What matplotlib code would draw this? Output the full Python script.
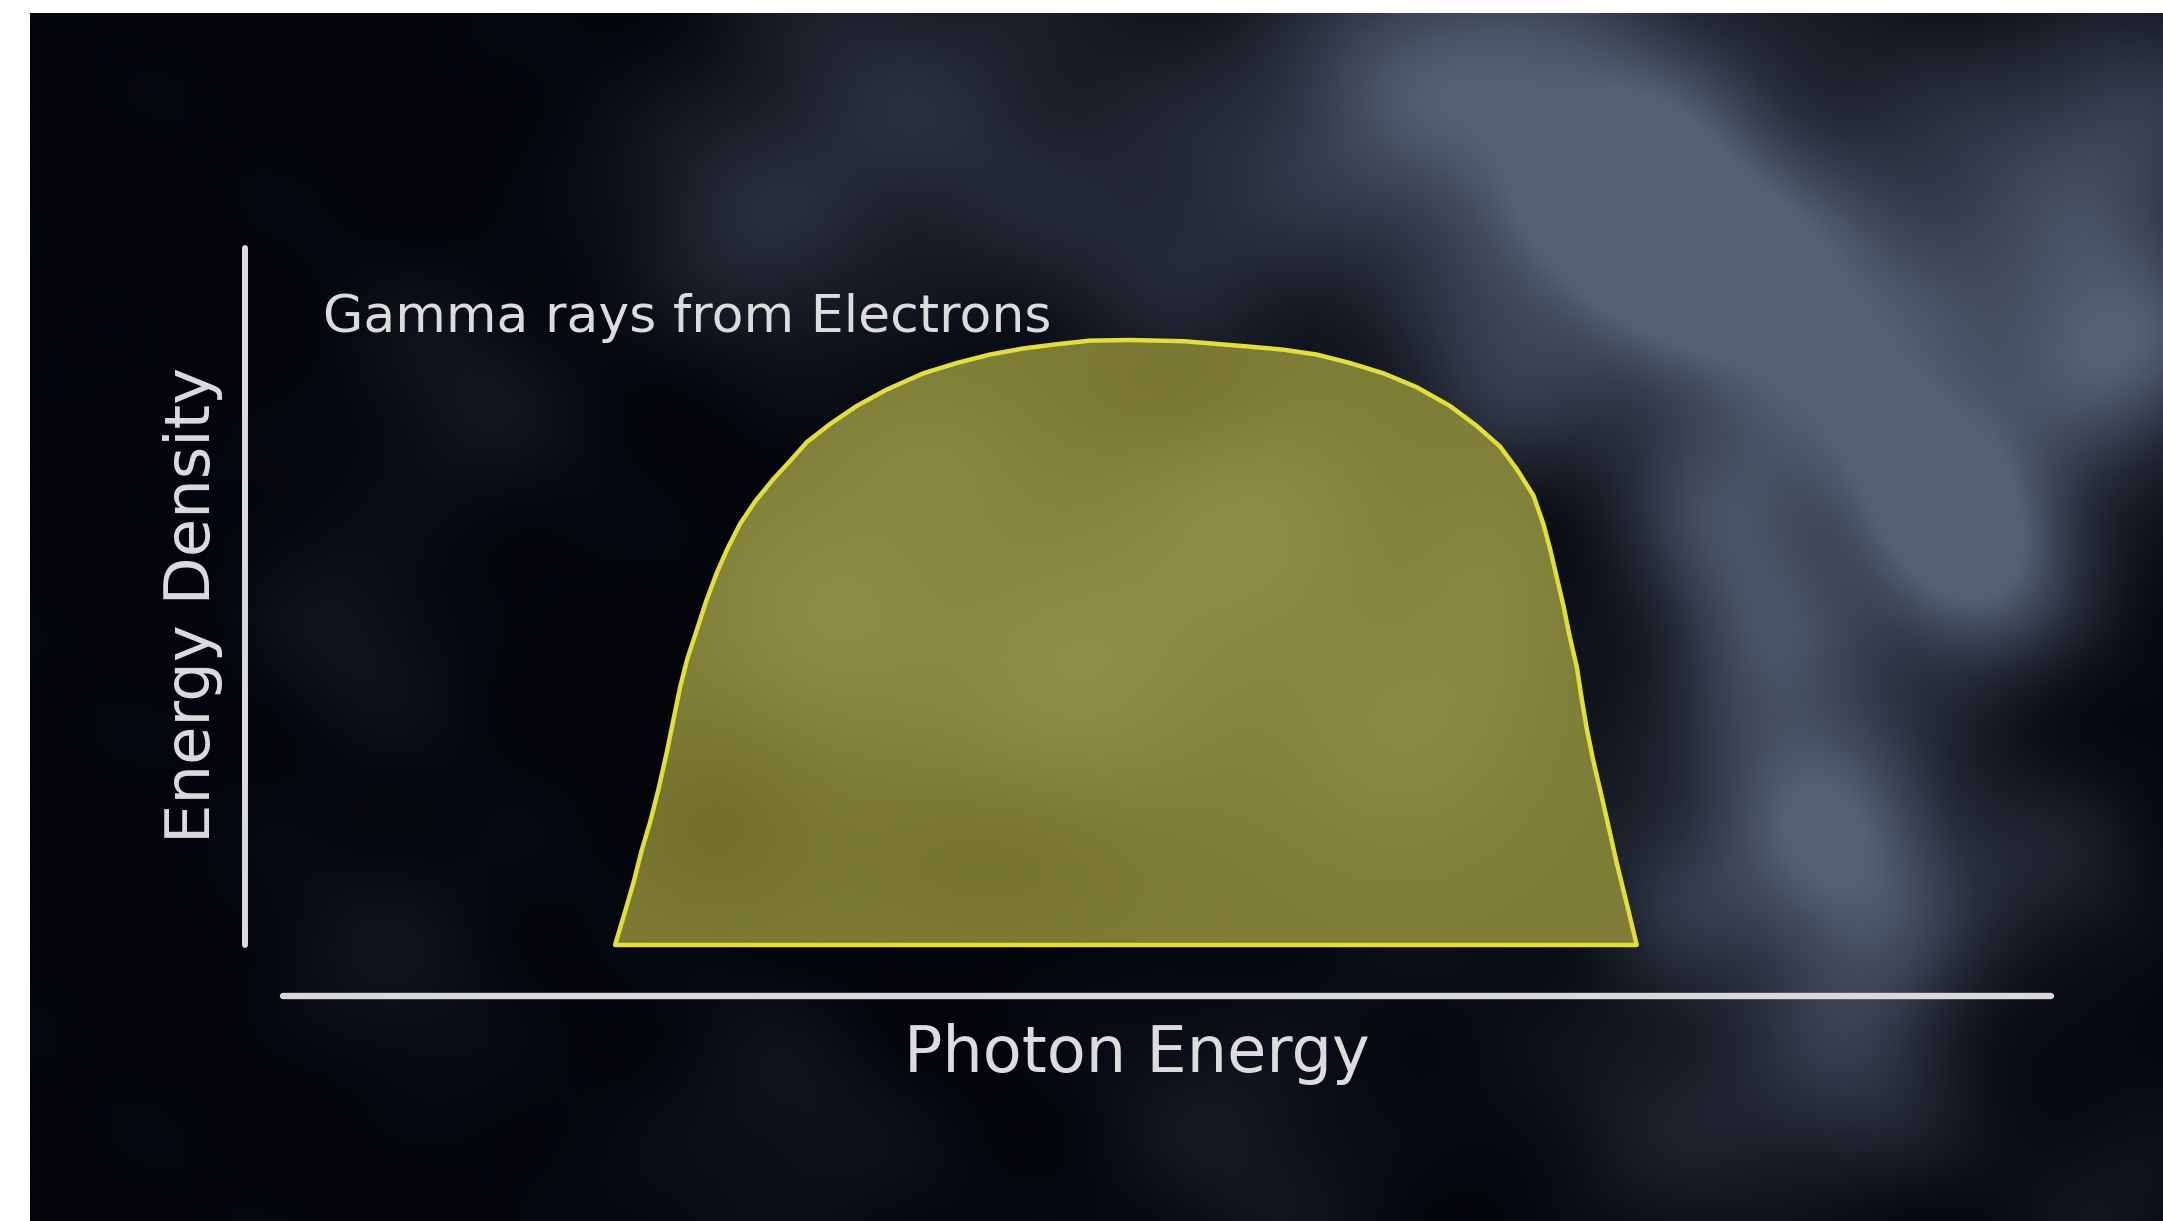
import numpy as np
import matplotlib
matplotlib.use("Agg")
import matplotlib.pyplot as plt
from matplotlib.patches import Polygon

# ---------------- data (arbitrary units) ----------------
photon_energy = [2.049, 2.104, 2.150, 2.196, 2.243, 2.289, 2.335, 2.372, 2.409, 2.449,
                 2.501, 2.553, 2.612, 2.671, 2.741, 2.824, 2.925, 3.018, 3.110, 3.239,
                 3.387, 3.553, 3.756, 3.941, 4.125, 4.309, 4.494, 4.679, 4.900, 5.200,
                 5.565, 5.749, 5.934, 6.118, 6.303, 6.488, 6.672, 6.820, 6.949, 7.041,
                 7.134, 7.189, 7.226, 7.263, 7.300, 7.337, 7.374, 7.402, 7.429, 7.466,
                 7.503, 7.549, 7.595, 7.651, 7.706]
energy_density = [0.000, 0.055, 0.102, 0.156, 0.203, 0.257, 0.318, 0.372, 0.426, 0.473,
                  0.520, 0.568, 0.615, 0.655, 0.696, 0.733, 0.770, 0.800, 0.831, 0.861,
                  0.891, 0.918, 0.945, 0.962, 0.976, 0.986, 0.993, 0.999, 1.000, 0.998,
                  0.989, 0.984, 0.976, 0.962, 0.945, 0.922, 0.891, 0.858, 0.824, 0.787,
                  0.743, 0.696, 0.655, 0.608, 0.561, 0.507, 0.460, 0.406, 0.358, 0.304,
                  0.257, 0.197, 0.136, 0.068, 0.000]
series_label = "Gamma rays from Electrons"
x_label = "Photon Energy"
y_label = "Energy Density"

# ---------------- figure ----------------
W, H = 2163, 1221
fig = plt.figure(figsize=(W / 100, H / 100), dpi=100, facecolor="white")
left_px, top_px = 30, 13
ax = fig.add_axes([left_px / W, 0, 1 - left_px / W, 1 - top_px / H])
xmin, xmax = -1.1905, 10.620
ymin, ymax = -0.4562, 1.5405
ax.axis("off")

# ---------------- nebula-like background (deterministic texture) ----------------
s = 1.3795
nx, ny = 540, 300
gx = np.linspace(left_px, W, nx)
gy = np.linspace(top_px, H, ny)
PX, PY = np.meshgrid(gx, gy)
blobs = [  # shown-coords centre x, y, radius, amplitude
    (1150, 110, 110, 0.95), (1010, 40, 70, 0.5), (1470, 190, 120, 0.7),
    (1300, 240, 70, 0.55), (1250, 370, 60, 0.55), (1440, 430, 55, 0.6),
    (1300, 560, 70, 0.55), (1370, 680, 60, 0.5), (1230, 800, 80, 0.35),
    (1500, 620, 60, 0.3), (680, 70, 120, 0.45), (880, 170, 80, 0.4),
    (540, 160, 70, 0.3), (330, 290, 70, 0.22), (250, 470, 60, 0.2),
    (290, 690, 70, 0.2), (560, 830, 80, 0.22), (900, 830, 90, 0.25),
    (1060, 560, 90, 0.3), (960, 430, 80, 0.3), (1540, 860, 60, 0.25),
    (1080, 290, 50, 0.35), (1560, 70, 60, 0.35), (1200, 180, 60, 0.5),
    (1380, 330, 50, 0.4), (1280, 460, 55, 0.45), (1330, 610, 60, 0.45),
    (1420, 380, 55, 0.5), (1350, 790, 60, 0.35), (1540, 260, 55, 0.5),
    (1210, 660, 45, 0.3),
]
V = np.zeros_like(PX)
for cx, cy, r, a in blobs:
    V += a * np.exp(-(((PX - cx * s) ** 2 + (PY - cy * s) ** 2) / (2 * (r * s) ** 2)))
V += 0.03 * (np.sin(PX / 41.0 + 1.3) * np.cos(PY / 33.0) + np.sin((PX - PY) / 57.0))
V = np.clip(V, 0, 1) ** 1.2
dark = np.array([2, 4, 10]) / 255.0
cloud = np.array([85, 96, 118]) / 255.0
img = dark + V[..., None] * (cloud - dark)
ax.imshow(img, extent=[xmin, xmax, ymin, ymax], origin="upper", aspect="auto",
          interpolation="bicubic", zorder=0)

# ---------------- filled spectrum ----------------
verts = np.column_stack([photon_energy, energy_density])
fill_poly = Polygon(verts, closed=True, facecolor="#818037", edgecolor="none", zorder=2)
ax.add_patch(fill_poly)

# soft mottled texture inside the shape
fx = np.linspace(min(photon_energy), max(photon_energy), 300)
fy = np.linspace(0, max(energy_density), 200)
FX, FY = np.meshgrid(fx, fy)
spots = [(3.2, 0.55, 0.5, 0.15, 0.35), (4.6, 0.45, 0.6, 0.18, 0.4),
         (5.6, 0.7, 0.5, 0.15, 0.35), (6.4, 0.35, 0.5, 0.15, 0.3),
         (4.2, 0.15, 0.6, 0.1, -0.25), (2.6, 0.2, 0.4, 0.12, -0.3),
         (5.2, 0.92, 0.4, 0.08, -0.2), (6.9, 0.6, 0.3, 0.15, 0.2),
         (3.8, 0.8, 0.4, 0.1, 0.2)]
T = np.full_like(FX, 0.45)
for cx, cy, rx, ry, a in spots:
    T += a * np.exp(-((FX - cx) ** 2 / (2 * rx ** 2) + (FY - cy) ** 2 / (2 * ry ** 2)))
T = np.clip(T, 0, 1)
c0 = np.array([108, 106, 36]) / 255.0
c1 = np.array([148, 148, 76]) / 255.0
timg = c0 + T[..., None] * (c1 - c0)
im = ax.imshow(timg, extent=[fx[0], fx[-1], fy[0], fy[-1]], origin="lower",
               aspect="auto", interpolation="bicubic", zorder=3)
im.set_clip_path(fill_poly)
ax.add_patch(Polygon(verts, closed=True, facecolor="none", edgecolor="#e3de3c",
                     linewidth=3.2, joinstyle="round", zorder=4))
ax.set_xlim(xmin, xmax)
ax.set_ylim(ymin, ymax)

# ---------------- axes lines ----------------
line_col = "#d9d9d9"
ax.plot([0, 0], [0, 1.152], color=line_col, lw=4.3, solid_capstyle="round", zorder=5)
ax.plot([0.21, 10.0], [-0.0843, -0.0843], color=line_col, lw=4.6,
        solid_capstyle="round", zorder=5)

# ---------------- text ----------------
txt_col = "#dcdcdc"
ax.text(0.432, 1.013, series_label, color=txt_col, fontsize=37.5,
        family="DejaVu Sans", ha="left", va="baseline", zorder=6)
ax.text(4.939, -0.210, x_label, color=txt_col, fontsize=46,
        family="DejaVu Sans", ha="center", va="baseline", zorder=6)
ax.text(-0.194, 0.562, y_label, color=txt_col, fontsize=45, rotation=90,
        rotation_mode="anchor", family="DejaVu Sans", ha="center",
        va="baseline", zorder=6)

fig.savefig("out.png", dpi=100, facecolor="white")
